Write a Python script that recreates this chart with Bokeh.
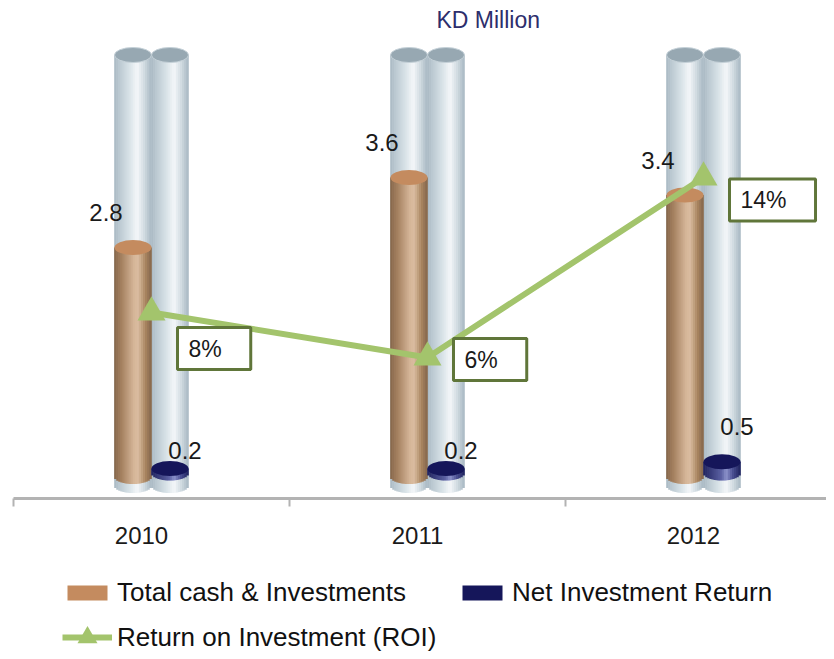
import math
from bokeh.plotting import figure
from bokeh.layouts import column
from bokeh.models import (Range1d, LinearAxis, FixedTicker, ColumnDataSource,
                          Label, Legend, LegendItem)
from bokeh.embed import file_html
from bokeh.resources import INLINE
from bokeh.core.properties import value

# ---------------- data ----------------
years = ["2010", "2011", "2012"]
total_cash = [2.8, 3.6, 3.4]          # KD Million
net_return = [0.2, 0.2, 0.5]          # KD Million
roi_pct = [8, 6, 14]                  # %
axis_max = 5.0                        # chart wall (background cylinders)
series_names = ["Total cash & Investments", "Net Investment Return",
                "Return on Investment (ROI)"]

# ---------------- geometry / style ----------------
FONT = "Liberation Sans"
W = 826
FRAME_H = 498
AXIS_H = 55
LEG_H = 651 - FRAME_H - AXIS_H
CAT_PX = 276.0
X0_PX = 151.0
ZERO_PX = 6.0
VAL_PX = 87.5
ROI_PX = 22.5
CYL_W_PX = 37.0
ELL_H_PX = 15
N_STRIPS = 18

BROWN = "#c48b5f"
NAVY = "#15165a"
GREEN = "#a3c46c"
OLIVE = "#60763a"

cats = list(range(len(years)))
x_range = Range1d(-X0_PX / CAT_PX, (W - X0_PX) / CAT_PX)
y_range = Range1d(-ZERO_PX / VAL_PX, (FRAME_H - ZERO_PX) / VAL_PX)
roi_range = Range1d(-ZERO_PX / ROI_PX, (FRAME_H - ZERO_PX) / ROI_PX)

p = figure(width=W, height=FRAME_H + AXIS_H, x_range=x_range, y_range=y_range,
           x_axis_type=None, y_axis_type=None, toolbar_location=None,
           output_backend="svg", min_border_left=0, min_border_right=0,
           min_border_top=0, min_border_bottom=AXIS_H)
p.extra_y_ranges = {"roi": roi_range}
p.outline_line_color = None
p.background_fill_color = "white"
p.border_fill_color = "white"

CYL_W = CYL_W_PX / CAT_PX
HALF_OFF = CYL_W / 2


def hexlerp(stops, t):
    for (t0, c0), (t1, c1) in zip(stops[:-1], stops[1:]):
        if t0 <= t <= t1:
            f = (t - t0) / (t1 - t0) if t1 > t0 else 0
            a = [int(c0[i:i + 2], 16) for i in (1, 3, 5)]
            b = [int(c1[i:i + 2], 16) for i in (1, 3, 5)]
            return "#%02x%02x%02x" % tuple(round(a[k] + (b[k] - a[k]) * f) for k in range(3))
    return stops[-1][1]


BG_STOPS = [(0.0, "#a9b9c3"), (0.15, "#bccad2"), (0.45, "#dde6eb"), (0.62, "#f4f7f9"),
            (0.8, "#d3dde3"), (1.0, "#a8b8c2")]
BR_STOPS = [(0.0, "#86664a"), (0.2, "#a58160"), (0.55, "#d7b89b"), (0.65, "#d9bb9f"),
            (0.85, "#a8845f"), (1.0, "#85654a")]
NV_STOPS = [(0.0, "#20235f"), (0.5, "#5c62a4"), (0.62, "#8e94cc"), (0.8, "#4a4f92"),
            (1.0, "#1d205c")]


def cylinder(xs, tops, base, px_per_unit, stops, cap_fill, cap_line, rng="default"):
    half = ELL_H_PX / 2 / px_per_unit
    rows = dict(x=[], top=[], bottom=[], color=[])
    step = CYL_W / N_STRIPS
    for j in range(N_STRIPS):
        u = -1 + (2 * j + 1) / N_STRIPS
        t = (j + 0.5) / N_STRIPS
        for xc, tp in zip(xs, tops):
            rows["x"].append(xc + u * CYL_W / 2)
            rows["top"].append(tp)
            rows["bottom"].append(base - half * math.sqrt(max(0.0, 1 - u * u)))
            rows["color"].append(hexlerp(stops, t))
    p.vbar(x="x", top="top", bottom="bottom", width=step * 1.3, fill_color="color",
           line_color=None, source=ColumnDataSource(rows), y_range_name=rng)
    cap = p.ellipse(x=xs, y=tops, width=CYL_W, height=ELL_H_PX, height_units="screen",
                    fill_color=cap_fill, line_color=cap_line, line_width=1,
                    y_range_name=rng)
    return cap


left_x = [c - HALF_OFF for c in cats]
right_x = [c + HALF_OFF for c in cats]

# background cylinders
BG_BASE = 7 / VAL_PX
cylinder(left_x, [axis_max] * len(cats), BG_BASE, VAL_PX, BG_STOPS, "#97a8b2", "#c5d1d8")
cylinder(right_x, [axis_max] * len(cats), BG_BASE, VAL_PX, BG_STOPS, "#97a8b2", "#c5d1d8")

# total cash cylinders
BR_BASE = 16 / VAL_PX
cylinder(left_x, total_cash, BR_BASE, VAL_PX, BR_STOPS, BROWN, None)

# net investment return cylinders (secondary scale)
NV_BASE = 19.5 / ROI_PX
navy_tops = [NV_BASE + v for v in net_return]
cylinder(right_x, navy_tops, NV_BASE, ROI_PX, NV_STOPS, NAVY, None, rng="roi")

# value labels
p.text(x=left_x, y=total_cash, text=["%.1f" % v for v in total_cash],
       x_offset=-27, y_offset=-35, text_align="center", text_baseline="middle",
       text_font=value(FONT), text_font_size="24px", text_color="#1a1a1a")
nv_src = ColumnDataSource(dict(x=right_x, y=navy_tops,
                               t=["%.1f" % v for v in net_return],
                               dy=[-18.5, -18.5, -35]))
p.text(x="x", y="y", text="t", x_offset=15, y_offset="dy", source=nv_src,
       text_align="center", text_baseline="middle", y_range_name="roi",
       text_font=value(FONT), text_font_size="24px", text_color="#1a1a1a")

# ROI line
p.line(x=cats, y=roi_pct, y_range_name="roi", line_color=GREEN, line_width=6)
p.scatter(x=cats, y=roi_pct, y_range_name="roi", marker="triangle", size=28,
          fill_color=GREEN, line_color=None)

roi_dy = [-36, -2, -22.5]
for c, r, dy in zip(cats, roi_pct, roi_dy):
    kw = dict(x=c, y=r, y_range_name="roi", x_offset=26, y_offset=dy, text="%d%%" % r,
              text_align="left", text_baseline="middle", text_font=FONT,
              text_font_size="23px", text_color="#1a1a1a",
              border_line_color=OLIVE, border_line_width=3,
              background_fill_color="white")
    try:
        lab = Label(padding=dict(left=11, right=29, top=8, bottom=8), **kw)
    except Exception:
        lab = Label(padding=9, **kw)
    p.add_layout(lab)

# title
p.add_layout(Label(x=436, y=FRAME_H - 19, x_units="screen", y_units="screen",
                   text="KD Million", text_font=FONT, text_font_size="23px",
                   text_color="#2d2e6c", text_baseline="middle", text_align="left"))

# x axis
shift = -10 / CAT_PX
ticks = [c + shift for c in cats]
xaxis = LinearAxis(ticker=FixedTicker(ticks=ticks, minor_ticks=[c - 0.5 for c in cats]),
                   major_label_overrides={t: y for t, y in zip(ticks, years)},
                   bounds=(-0.5, x_range.end))
xaxis.axis_line_color = "#b3b3b3"
xaxis.axis_line_width = 3
xaxis.major_tick_line_color = None
xaxis.major_tick_out = 0
xaxis.major_tick_in = 0
xaxis.minor_tick_line_color = "#b3b3b3"
xaxis.minor_tick_line_width = 2
xaxis.minor_tick_out = 8
xaxis.minor_tick_in = 0
xaxis.major_label_text_font = FONT
xaxis.major_label_text_font_size = "24px"
xaxis.major_label_text_color = "#1a1a1a"
xaxis.major_label_standoff = 20
p.add_layout(xaxis, "below")

# ---------------- legend strip ----------------
# The series are re-drawn here outside the visible range so that the legend
# swatches come from real renderers of this plot.
lg = figure(width=W, height=LEG_H, x_range=Range1d(100, 101), y_range=Range1d(100, 101),
            x_axis_type=None, y_axis_type=None, toolbar_location=None,
            output_backend="svg", min_border_left=0, min_border_right=0,
            min_border_top=0, min_border_bottom=0)
lg.outline_line_color = None
lg.border_fill_color = "white"
lg.background_fill_color = "white"
r_brown = lg.vbar(x=cats, top=total_cash, width=0.3, fill_color=BROWN, line_color=None)
r_navy = lg.vbar(x=cats, top=net_return, width=0.3, fill_color=NAVY, line_color=None)
r_line = lg.line(x=cats, y=roi_pct, line_color=GREEN, line_width=6)
r_mark = lg.scatter(x=cats, y=roi_pct, marker="triangle", size=22, fill_color=GREEN,
                    line_color=None)

common = dict(orientation="horizontal", glyph_width=50, label_standoff=5,
              label_height=26, padding=0, margin=0, border_line_color=None,
              background_fill_alpha=0, label_text_font=FONT,
              label_text_font_size="26px", label_text_color="#111111")
legend_bars = Legend(items=[
    LegendItem(label=series_names[0], renderers=[r_brown]),
    LegendItem(label=series_names[1], renderers=[r_navy]),
], location=(62, 43), glyph_height=19, spacing=51, **common)
legend_roi = Legend(items=[
    LegendItem(label=series_names[2], renderers=[r_line, r_mark]),
], location=(62, -11), glyph_height=50, spacing=0, **common)
lg.add_layout(legend_bars)
lg.add_layout(legend_roi)

page = column(p, lg, spacing=0)
open("out.html", "w").write(file_html(page, INLINE))
